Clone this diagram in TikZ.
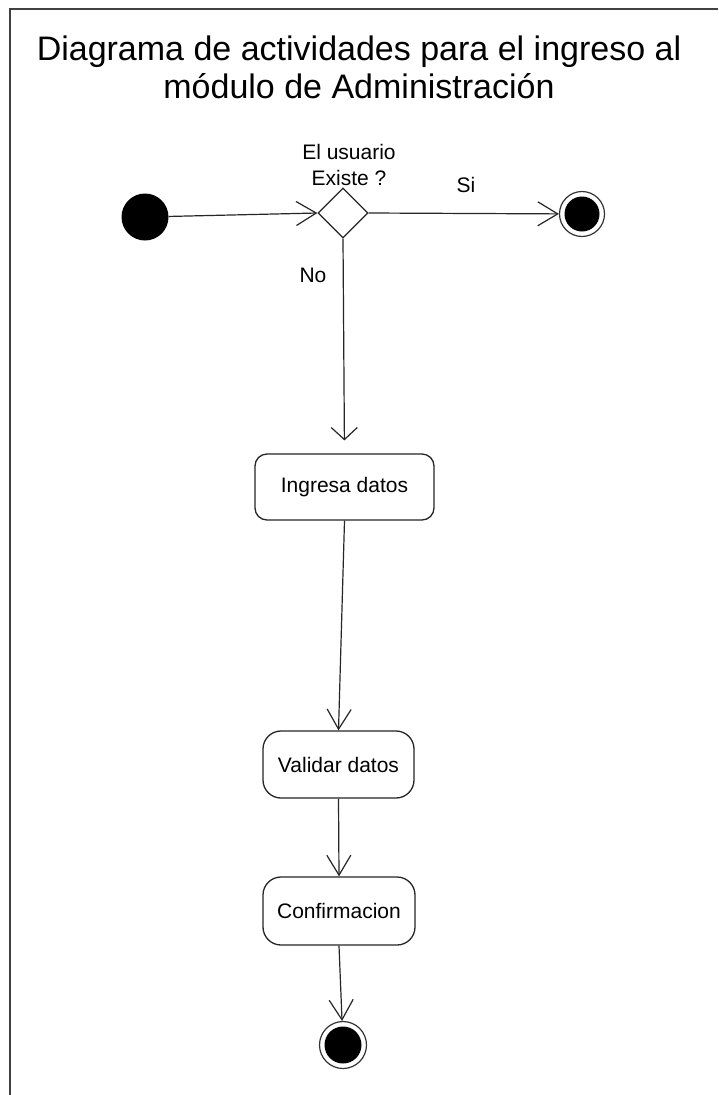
\documentclass[tikz,border=0pt]{standalone}
\usepackage{fontspec}
\setmainfont{Liberation Sans}
\usetikzlibrary{arrows.meta,shapes.geometric}
\begin{document}
\begin{tikzpicture}[x=1pt,y=-1pt,
  every node/.style={font=\fontsize{21}{26}\selectfont},
  flow/.style={draw=black!85,line width=1.2pt,-{Straight Barb[length=20pt,width=24pt,line width=1.2pt]}},
  activity/.style={draw=black!85,line width=1.3pt,fill=white,inner sep=0pt,align=center},
  startdot/.style={circle,fill=black,inner sep=0pt,minimum size=47pt},
  endring/.style={circle,draw=black!80,line width=1.2pt,fill=white,inner sep=0pt,minimum size=45pt},
  enddot/.style={circle,fill=black,inner sep=0pt,minimum size=35pt},
  decision/.style={diamond,draw=black!85,line width=1.2pt,fill=white,inner sep=0pt,minimum width=50pt,minimum height=50pt},
  lbl/.style={inner sep=0pt,align=center}]
\useasboundingbox (0,0) rectangle (718,1095);
\fill[white] (0,0) rectangle (718,1095);

% frame
\draw[black!75,line width=2pt] (10,1095) -- (10,9) -- (718,9);

% title
\node[lbl,font=\fontsize{34}{38}\selectfont] (title) at (359,67)
  {Diagrama de actividades para el ingreso al\\m\'odulo de Administraci\'on};

% nodes
\node[startdot] (start) at (145,217) {};
\node[decision] (dec) at (343,213) {};
\node[endring] (endA) at (582,214) {};
\node[enddot] (endAd) at (endA) {};

\node[activity,rounded corners=12pt,minimum width=179pt,minimum height=66pt] (ing) at (344.5,487) {Ingresa datos};
\node[activity,rounded corners=18pt,minimum width=151pt,minimum height=67pt] (val) at (338.5,764.5) {Validar datos};
\node[activity,rounded corners=18pt,minimum width=152pt,minimum height=68pt] (conf) at (339,911) {Confirmacion};

\node[endring,minimum size=47pt] (endB) at (343,1045) {};
\node[enddot,minimum size=37pt] (endBd) at (endB) {};

% labels
\node[lbl] (q) at (349,165) {El usuario\\Existe ?};
\node[lbl] (si) at (466,185) {Si};
\node[lbl] (no) at (313,275) {No};

% connectors
\draw[flow] (start) -- (dec.west);
\draw[flow] (dec.east) -- (endA);
\draw[draw=black!85,line width=1.2pt,-{Straight Barb[length=12pt,width=26pt,line width=1.2pt]},shorten >=13pt] (dec.south) -- (ing.north);
\draw[flow] (ing.south) -- (val.north);
\draw[flow] (val.south) -- (conf.north);
\draw[flow] (conf.south) -- (endB);
\end{tikzpicture}
\end{document}
